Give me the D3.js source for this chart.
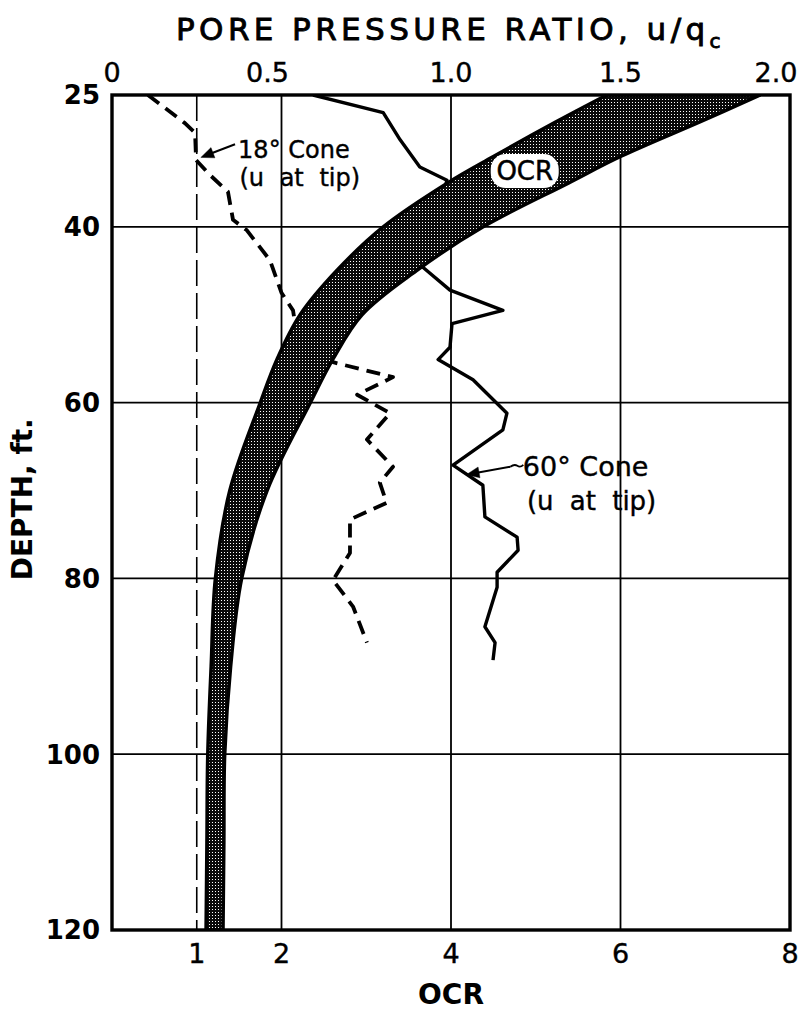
<!DOCTYPE html>
<html>
<head>
<meta charset="utf-8">
<script src="https://cdn.jsdelivr.net/npm/d3@7"></script>
<style>
  body { margin: 0; background: #fff; }
  svg { display: block; }
</style>
</head>
<body>
<div id="wrapper"></div>
<script>
// axis ticks
const depthTicks = [25, 40, 60, 80, 100, 120]
const ocrTicks = [1, 2, 4, 6, 8]
const ratioTicks = [0, 0.5, 1.0, 1.5, 2.0]
const ratioLabels = ["0", "0.5", "1.0", "1.5", "2.0"]

// OCR band (left and right edge, in OCR units)
const bandDepth = [25, 28, 32, 35, 40, 45, 50, 55, 60, 70, 80, 90, 100, 110, 120]
const bandLeft  = [5.84, 5.25, 4.50, 3.96, 3.20, 2.65, 2.22, 1.95, 1.75, 1.39, 1.22, 1.17, 1.13, 1.12, 1.11]
const bandRight = [7.65, 6.95, 6.00, 5.39, 4.38, 3.59, 2.95, 2.61, 2.34, 1.83, 1.53, 1.40, 1.33, 1.32, 1.31]

// 18 deg cone, u at tip (pore pressure ratio)
const cone18Depth = [25, 28.2, 29.3, 32.4, 34.1, 36, 39.2, 40.4, 43.8, 47.5, 49.5, 51, 55.4, 57.1, 59.1, 61.2, 64.2, 67.3, 69.1, 71.4, 73.3, 77.1, 80.2, 83.2, 87.3]
const cone18Ratio = [0.106, 0.215, 0.245, 0.248, 0.289, 0.342, 0.357, 0.398, 0.466, 0.50, 0.534, 0.54, 0.652, 0.829, 0.723, 0.82, 0.752, 0.829, 0.79, 0.81, 0.702, 0.702, 0.652, 0.711, 0.752]

// 60 deg cone, u at tip
const cone60Depth = [25, 27, 30.1, 33.2, 34.7, 44.6, 47.2, 49.5, 51, 53.7, 55.1, 57.4, 61.2, 63.1, 67.1, 69.4, 73, 75.3, 76.8, 79.3, 81, 85.5, 87.3, 89.3]
const cone60Ratio = [0.593, 0.80, 0.85, 0.908, 0.988, 0.917, 0.997, 1.153, 1.003, 0.997, 0.962, 1.065, 1.165, 1.153, 1.006, 1.094, 1.10, 1.195, 1.198, 1.136, 1.136, 1.10, 1.13, 1.124]

function drawChart() {
    const dimensions = {
        width: 808,
        height: 1014,
        margins: { top: 95, right: 18, bottom: 84, left: 112 },
    }
    dimensions.boundedWidth = dimensions.width - dimensions.margins.left - dimensions.margins.right
    dimensions.boundedHeight = dimensions.height - dimensions.margins.top - dimensions.margins.bottom

    const font = "'DejaVu Sans', sans-serif"

    const wrapper = d3.select("#wrapper")
        .append("svg")
            .attr("width", dimensions.width)
            .attr("height", dimensions.height)

    // stipple pattern for the band
    const defs = wrapper.append("defs")
    const pattern = defs.append("pattern")
        .attr("id", "stipple")
        .attr("patternUnits", "userSpaceOnUse")
        .attr("width", 3)
        .attr("height", 3)
    pattern.append("rect").attr("width", 3).attr("height", 3).attr("fill", "#0a0a0a")
    pattern.append("rect").attr("x", 1).attr("y", 1).attr("width", 1).attr("height", 1).attr("fill", "#fff")

    defs.append("clipPath").attr("id", "plotClip")
        .append("rect")
            .attr("width", dimensions.boundedWidth)
            .attr("height", dimensions.boundedHeight)

    const bounds = wrapper.append("g")
        .attr("transform", `translate(${dimensions.margins.left},${dimensions.margins.top})`)

    // scales
    const xScale = d3.scaleLinear().domain([0, 8]).range([0, dimensions.boundedWidth])
    const xTopScale = d3.scaleLinear().domain([0, 2]).range([0, dimensions.boundedWidth])
    const yScale = d3.scaleLinear().domain([25, 120]).range([0, dimensions.boundedHeight])

    // grid
    const grid = bounds.append("g")
    grid.selectAll(".hgrid")
        .data(depthTicks.filter(d => d > 25 && d < 120))
        .enter().append("line")
            .attr("x1", 0)
            .attr("x2", dimensions.boundedWidth)
            .attr("y1", d => yScale(d))
            .attr("y2", d => yScale(d))
            .attr("stroke", "#000")
            .attr("stroke-width", 1.8)
    grid.selectAll(".vgrid")
        .data(ocrTicks.filter(d => d < 8))
        .enter().append("line")
            .attr("x1", d => xScale(d))
            .attr("x2", d => xScale(d))
            .attr("y1", 0)
            .attr("y2", dimensions.boundedHeight)
            .attr("stroke", "#000")
            .attr("stroke-width", d => d === 1 ? 1.6 : 1.8)
            .attr("stroke-dasharray", d => d === 1 ? "26,7" : null)

    const plot = bounds.append("g").attr("clip-path", "url(#plotClip)")

    // cone lines
    const line18 = d3.line()
        .x(i => xTopScale(cone18Ratio[i]))
        .y(i => yScale(cone18Depth[i]))
    plot.append("path")
        .attr("d", line18(d3.range(cone18Depth.length)))
        .attr("fill", "none")
        .attr("stroke", "#000")
        .attr("stroke-width", 3.8)
        .attr("stroke-dasharray", "14,8")
        .attr("stroke-linejoin", "round")

    const line60 = d3.line()
        .x(i => xTopScale(cone60Ratio[i]))
        .y(i => yScale(cone60Depth[i]))
    plot.append("path")
        .attr("d", line60(d3.range(cone60Depth.length)))
        .attr("fill", "none")
        .attr("stroke", "#000")
        .attr("stroke-width", 3.4)
        .attr("stroke-linejoin", "round")

    // OCR band
    const bandArea = d3.area()
        .y(i => yScale(bandDepth[i]))
        .x0(i => xScale(bandLeft[i]))
        .x1(i => xScale(bandRight[i]))
        .curve(d3.curveCatmullRom)
    plot.append("path")
        .attr("d", bandArea(d3.range(bandDepth.length)))
        .attr("fill", "url(#stipple)")
        .attr("stroke", "#000")
        .attr("stroke-width", 3.5)

    // OCR label on the band
    const ocrLabel = bounds.append("g")
        .attr("transform", `translate(${xScale(4.87)},${yScale(33.65)})`)
    ocrLabel.append("rect")
        .attr("x", -34).attr("y", -17)
        .attr("width", 68).attr("height", 34)
        .attr("rx", 15)
        .attr("fill", "#fff")
    ocrLabel.append("text")
        .attr("text-anchor", "middle")
        .attr("dy", "0.36em")
        .style("font-family", font)
        .style("font-size", "26px")
        .attr("stroke", "#000")
        .attr("stroke-width", 0.5)
        .text("OCR")

    // frame
    bounds.append("rect")
        .attr("width", dimensions.boundedWidth)
        .attr("height", dimensions.boundedHeight)
        .attr("fill", "none")
        .attr("stroke", "#000")
        .attr("stroke-width", 3.4)

    // annotations
    const arrow = (g, x1, y1, x2, y2) => {
        const ang = Math.atan2(y2 - y1, x2 - x1)
        const len = 13, w = 5.5
        g.append("line")
            .attr("x1", x1).attr("y1", y1).attr("x2", x2 - Math.cos(ang) * 8).attr("y2", y2 - Math.sin(ang) * 8)
            .attr("stroke", "#000").attr("stroke-width", 2)
        const bx = x2 - Math.cos(ang) * len, by = y2 - Math.sin(ang) * len
        g.append("path")
            .attr("d", `M${x2},${y2}L${bx - Math.sin(ang) * w},${by + Math.cos(ang) * w}L${bx + Math.sin(ang) * w},${by - Math.cos(ang) * w}Z`)
            .attr("fill", "#000")
    }
    const notes = bounds.append("g")
        .style("font-family", font)
        .attr("stroke", "#000")
        .attr("stroke-width", 0.4)
    arrow(notes, xTopScale(0.363), yScale(30.6), xTopScale(0.262), yScale(32.1))
    notes.append("text")
        .attr("x", xTopScale(0.372)).attr("y", yScale(32.2))
        .style("font-size", "24px")
        .text("18° Cone")
    notes.append("text")
        .attr("x", xTopScale(0.376)).attr("y", yScale(35.4))
        .style("font-size", "24px")
        .style("word-spacing", "8px")
        .text("(u at tip)")

    arrow(notes, xTopScale(1.175), yScale(67.3), xTopScale(1.045), yScale(68.2))
    notes.append("path")
        .attr("d", `M${xTopScale(1.175)},${yScale(67.3)} q4,-3 7,-1 q3,2 6,-1`)
        .attr("fill", "none").attr("stroke-width", 1.8)
    notes.append("text")
        .attr("x", xTopScale(1.212)).attr("y", yScale(68.3))
        .style("font-size", "27px")
        .text("60° Cone")
    notes.append("text")
        .attr("x", xTopScale(1.224)).attr("y", yScale(72.2))
        .style("font-size", "26px")
        .style("word-spacing", "8px")
        .text("(u at tip)")

    // axes labels
    const left = bounds.append("g")
    left.selectAll("text")
        .data(depthTicks)
        .enter().append("text")
            .attr("x", -12)
            .attr("y", d => yScale(d))
            .attr("dy", "0.36em")
            .attr("text-anchor", "end")
            .style("font-family", font)
            .style("font-weight", "bold")
            .style("font-size", "26px")
            .text(d => d)

    const top = bounds.append("g")
    top.selectAll("text")
        .data(ratioTicks)
        .enter().append("text")
            .attr("x", (d, i) => xTopScale(d) + (i === 1 ? -14 : i === 4 ? -14 : 0))
            .attr("y", -13)
            .attr("text-anchor", "middle")
            .style("font-family", font)
            .style("font-size", "27px")
            .attr("stroke", "#000")
            .attr("stroke-width", 0.4)
            .text((d, i) => ratioLabels[i])

    const bottom = bounds.append("g")
    bottom.selectAll("text")
        .data(ocrTicks)
        .enter().append("text")
            .attr("x", d => xScale(d))
            .attr("y", dimensions.boundedHeight + 33)
            .attr("text-anchor", "middle")
            .style("font-family", font)
            .style("font-size", "27px")
            .attr("stroke", "#000")
            .attr("stroke-width", 0.4)
            .text(d => d)

    bounds.append("text")
        .attr("x", xScale(4))
        .attr("y", dimensions.boundedHeight + 74)
        .attr("text-anchor", "middle")
        .style("font-family", font)
        .style("font-weight", "bold")
        .style("font-size", "28px")
        .text("OCR")

    bounds.append("text")
        .attr("transform", `translate(${-80},${yScale(71)}) rotate(-90)`)
        .attr("text-anchor", "middle")
        .style("font-family", font)
        .style("font-weight", "bold")
        .style("font-size", "28px")
        .text("DEPTH, ft.")

    const title = wrapper.append("text")
        .attr("x", 176)
        .attr("y", 40)
        .style("font-family", font)
        .style("font-size", "31px")
        .style("letter-spacing", "4.4px")
        .attr("stroke", "#000")
        .attr("stroke-width", 0.9)
    title.append("tspan").text("PORE PRESSURE RATIO, u/q")
    title.append("tspan")
        .attr("dy", 8)
        .style("font-size", "20px")
        .text("c")
}

drawChart()
</script>
</body>
</html>
